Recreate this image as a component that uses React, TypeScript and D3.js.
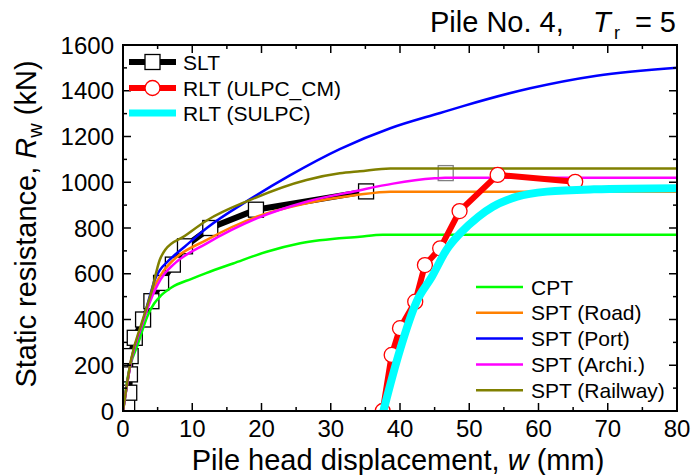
import React from "react";
import * as d3 from "d3";

// SLT (static load test) points
const sltW = [0.6, 0.9, 1.0, 1.1, 1.7, 2.9, 4.1, 5.5, 7.2, 8.95, 12.6, 19.2, 35.1];
const sltR = [20, 80, 160, 240, 320, 400, 480, 560, 640, 720, 800, 880, 960];
const sltExtraW = [46.6];
const sltExtraR = [1040];

// RLT (ULPC_CM)
const cmW = [37.5, 38.8, 40.0, 42.2, 43.6, 45.8, 48.6, 54.1, 65.3];
const cmR = [0, 245, 362, 478, 638, 711, 874, 1032, 1002];

// RLT (SULPC)
const sulpcW = [37.6, 38.9, 40.0, 42.4, 44.6, 46.7, 48.7, 51.3, 53.4, 56.9, 61.2, 68.0, 80];
const sulpcR = [0, 150, 267, 478, 587, 704, 777, 849, 893, 937, 959, 969, 974];

// estimation curves
const cptW = [0, 0.7, 2.2, 3.6, 4.5, 5.5, 7.0, 9.9, 12.0, 15.9, 20.75, 25.6, 34.2, 37.5, 80];
const cptR = [0, 150, 297, 420, 470, 505, 540, 578, 603, 645, 696, 733, 762, 770, 770];

const roadW = [0, 1.2, 2.65, 4.0, 4.8, 5.8, 7.27, 12.1, 19.3, 26.5, 33.7, 38.6, 80];
const roadR = [0, 223, 369, 500, 560, 610, 660, 748, 849, 908, 944, 959, 959];

const portW = [0, 1.2, 2.65, 4.0, 4.6, 5.3, 6.5, 8.9, 12.1, 18.3, 24.1, 31.3, 38.6, 45.8, 49.1, 58.8, 68.4, 80];
const portR = [0, 223, 369, 515, 575, 615, 655, 718, 800, 925, 1030, 1145, 1236, 1303, 1333, 1411, 1466, 1501];

const archiW = [0, 1.2, 2.65, 4.3, 5.05, 6.0, 7.27, 12.1, 19.3, 26.5, 33.7, 39.0, 45.0, 46.5, 80];
const archiR = [0, 223, 369, 507, 555, 600, 640, 733, 842, 915, 962, 994, 1017, 1020, 1020];

const railW = [0, 1.2, 2.65, 4.1, 5.3, 6.1, 8.9, 12.1, 18.3, 26.5, 31.3, 34.2, 38.6, 80];
const railR = [0, 230, 380, 520, 660, 705, 765, 833, 922, 1010, 1039, 1048, 1060, 1060];

const xTicks = [0, 10, 20, 30, 40, 50, 60, 70, 80];
const yTicks = [0, 200, 400, 600, 800, 1000, 1200, 1400, 1600];

const thinSeries = [
  { name: "CPT", w: cptW, r: cptR, color: "#00ff00" },
  { name: "SPT (Road)", w: roadW, r: roadR, color: "#ff8000" },
  { name: "SPT (Port)", w: portW, r: portR, color: "#0000ff" },
  { name: "SPT (Archi.)", w: archiW, r: archiR, color: "#ff00ff" },
  { name: "SPT (Railway)", w: railW, r: railR, color: "#808000" },
];

const W = 692;
const H = 475;
const left = 123, right = 677, top = 45, bottom = 411;
const font = "'Liberation Sans', Arial, sans-serif";

const x = d3.scaleLinear().domain([0, 80]).range([left, right]);
const y = d3.scaleLinear().domain([0, 1600]).range([bottom, top]);

const pts = (ws: number[], rs: number[]) => ws.map((w, i) => [w, rs[i]] as [number, number]);
const smooth = d3.line<[number, number]>().x(d => x(d[0])).y(d => y(d[1])).curve(d3.curveMonotoneX);
const straight = d3.line<[number, number]>().x(d => x(d[0])).y(d => y(d[1]));

export default function App() {
  const xMinor = d3.range(0, 81, 5);
  const yMinor = d3.range(0, 1601, 100);
  const sq = 15;

  return (
    <svg width={W} height={H} style={{ position: "absolute", left: 0, top: 0, background: "#fff" }}>
      <defs>
        <clipPath id="plot">
          <rect x={left} y={top} width={right - left} height={bottom - top} />
        </clipPath>
      </defs>

      <g clipPath="url(#plot)">
        {/* SLT */}
        <path d={straight(pts(sltW, sltR)) || ""} fill="none" stroke="#000" strokeWidth={6} />
        {sltW.map((w, i) => (
          <rect key={"s" + i} x={x(w) - sq / 2} y={y(sltR[i]) - sq / 2} width={sq} height={sq}
            fill="#fff" stroke="#000" strokeWidth={1.3} />
        ))}
        {sltExtraW.map((w, i) => (
          <rect key={"g" + i} x={x(w) - sq / 2} y={y(sltExtraR[i]) - sq / 2} width={sq} height={sq}
            fill="#fff" stroke="#808080" strokeWidth={1.3} />
        ))}

        {/* estimation curves */}
        {thinSeries.map(s => (
          <path key={s.name} d={smooth(pts(s.w, s.r)) || ""} fill="none" stroke={s.color} strokeWidth={2.5} />
        ))}

        {/* RLT (ULPC_CM) */}
        <path d={straight(pts(cmW, cmR)) || ""} fill="none" stroke="#ff0000" strokeWidth={6} />
        {cmW.map((w, i) => (
          <circle key={"c" + i} cx={x(w)} cy={y(cmR[i])} r={7.5} fill="#fff" stroke="#ff0000" strokeWidth={1.3} />
        ))}

        {/* RLT (SULPC) */}
        <path d={smooth(pts(sulpcW, sulpcR)) || ""} fill="none" stroke="#00ffff" strokeWidth={8} />
      </g>

      {/* frame and ticks */}
      <rect x={left} y={top} width={right - left} height={bottom - top} fill="none" stroke="#000" strokeWidth={2} />
      {xMinor.map(v => {
        const len = v % 10 === 0 ? 8 : 4;
        return (
          <g key={"xt" + v} stroke="#000" strokeWidth={1.5}>
            <line x1={x(v)} x2={x(v)} y1={bottom} y2={bottom - len} />
            <line x1={x(v)} x2={x(v)} y1={top} y2={top + len} />
          </g>
        );
      })}
      {yMinor.map(v => {
        const len = v % 200 === 0 ? 8 : 4;
        return (
          <g key={"yt" + v} stroke="#000" strokeWidth={1.5}>
            <line x1={left} x2={left + len} y1={y(v)} y2={y(v)} />
            <line x1={right} x2={right - len} y1={y(v)} y2={y(v)} />
          </g>
        );
      })}

      {xTicks.map(v => (
        <text key={"xl" + v} x={x(v)} y={437} textAnchor="middle" fontFamily={font} fontSize={24}>{v}</text>
      ))}
      {yTicks.map(v => (
        <text key={"yl" + v} x={114} y={y(v) + 8.5} textAnchor="end" fontFamily={font} fontSize={24}>{v}</text>
      ))}

      {/* axis titles */}
      <text x={398} y={470} textAnchor="middle" fontFamily={font} fontSize={29}>
        Pile head displacement, <tspan fontStyle="italic">w</tspan> (mm)
      </text>
      <text transform="translate(36,224) rotate(-90)" textAnchor="middle" fontFamily={font} fontSize={29}>
        Static resistance, <tspan fontStyle="italic">R</tspan>
        <tspan fontSize={20} dy={6}>w</tspan>
        <tspan dy={-6}> (kN)</tspan>
      </text>

      {/* title */}
      <text x={430} y={32} fontFamily={font} fontSize={29}>Pile No. 4,</text>
      <text x={593} y={32} fontFamily={font} fontSize={29} fontStyle="italic">T</text>
      <text x={614} y={39} fontFamily={font} fontSize={18}>r</text>
      <text x={676} y={32} textAnchor="end" fontFamily={font} fontSize={29}>= 5</text>

      {/* legend top-left */}
      <g fontFamily={font} fontSize={21}>
        <line x1={129} x2={176} y1={62} y2={62} stroke="#000" strokeWidth={6} />
        <rect x={152.5 - sq / 2} y={62 - sq / 2} width={sq} height={sq} fill="#fff" stroke="#000" strokeWidth={1.3} />
        <text x={183} y={69.5}>SLT</text>
        <line x1={129} x2={176} y1={88} y2={88} stroke="#ff0000" strokeWidth={6} />
        <circle cx={152.5} cy={88} r={7.5} fill="#fff" stroke="#ff0000" strokeWidth={1.3} />
        <text x={183} y={95.5}>RLT (ULPC_CM)</text>
        <line x1={129} x2={176} y1={113} y2={113} stroke="#00ffff" strokeWidth={7} />
        <text x={183} y={120.5}>RLT (SULPC)</text>
      </g>

      {/* legend bottom-right */}
      <g fontFamily={font} fontSize={21}>
        {thinSeries.map((s, i) => {
          const yy = 287 + i * 25.8;
          return (
            <g key={"lg" + s.name}>
              <line x1={476} x2={523} y1={yy} y2={yy} stroke={s.color} strokeWidth={2.5} />
              <text x={531} y={yy + 7.5}>{s.name}</text>
            </g>
          );
        })}
      </g>
    </svg>
  );
}
